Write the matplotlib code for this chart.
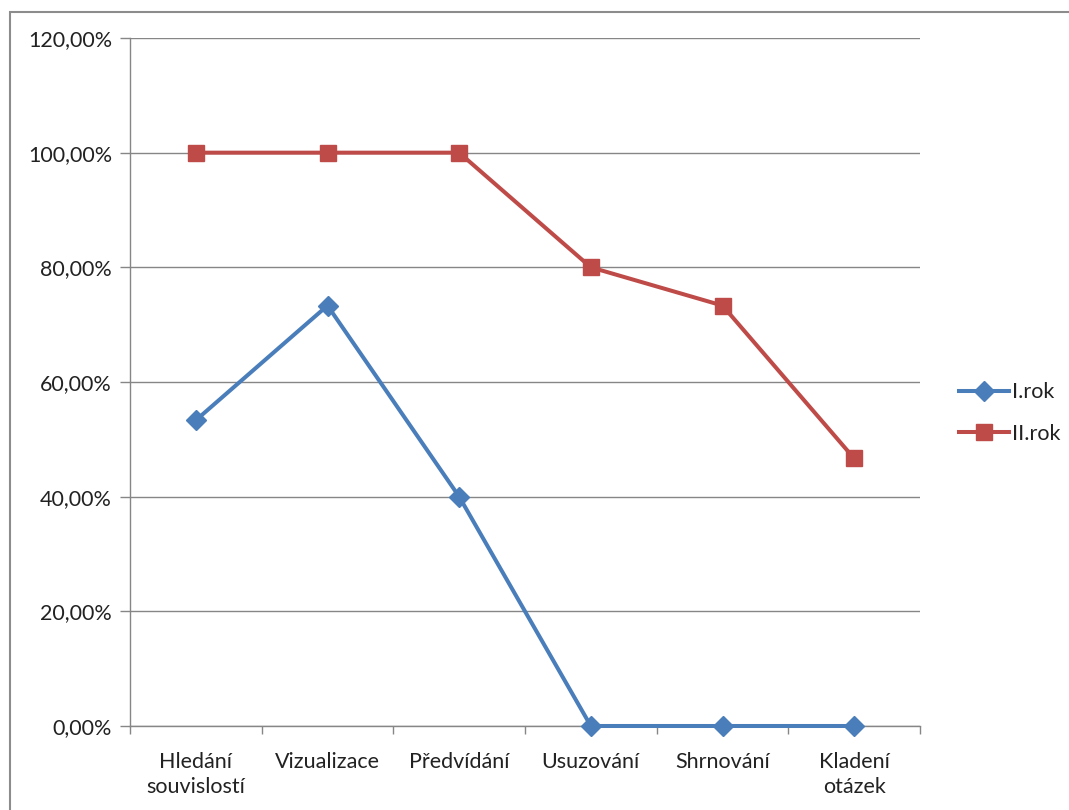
import matplotlib
matplotlib.use("Agg")
import matplotlib.pyplot as plt
from matplotlib.patches import Rectangle
from matplotlib.ticker import FuncFormatter, MultipleLocator

categories = ["Hledání\nsouvislostí", "Vizualizace", "Předvídání", "Usuzování", "Shrnování", "Kladení\notázek"]
rok1 = [53.33, 73.33, 40.0, 0.0, 0.0, 0.0]
rok2 = [100.0, 100.0, 100.0, 80.0, 73.33, 46.67]
series_names = ["I.rok", "II.rok"]

plt.rcParams['font.family'] = ['Lato', 'DejaVu Sans']

fig = plt.figure(figsize=(10.69, 8.10), dpi=100)
fig.patches.append(Rectangle((10/1069, -0.1), 1.2, 1 - 12/810 + 0.1, transform=fig.transFigure,
                             fill=False, edgecolor='#8c8c8c', linewidth=1.5, zorder=0))

ax = fig.add_axes([130/1069, 1 - 726/810, 790/1069, 688/810])
x = list(range(len(categories)))
ax.plot(x, rok1, color='#4a7ebb', linewidth=2.9, marker='D', markersize=10, label=series_names[0], zorder=3, clip_on=False)
ax.plot(x, rok2, color='#be4b48', linewidth=2.9, marker='s', markersize=11.5, label=series_names[1], zorder=3, clip_on=False)

ax.set_xlim(-0.5, len(categories) - 0.5)
ax.set_ylim(0, 120)
ax.yaxis.set_major_locator(MultipleLocator(20))
ax.yaxis.set_major_formatter(FuncFormatter(lambda v, p: f"{v:.2f}".replace('.', ',') + "%"))
ax.grid(axis='y', color='#868686', linewidth=1)
ax.set_axisbelow(True)

ax.set_xticks(x)
ax.set_xticklabels(categories, fontsize=15.5, color='#222222', linespacing=1.3)
ax.set_xticks([i - 0.5 for i in range(len(categories) + 1)], minor=True)
ax.tick_params(axis='x', which='major', length=0, pad=19)
ax.tick_params(axis='x', which='minor', length=6, color='#868686', width=1)
ax.tick_params(axis='y', length=7, color='#868686', width=1, labelsize=15.5, labelcolor='#222222', pad=6)

for s in ['top', 'right']:
    ax.spines[s].set_visible(False)
for s in ['left', 'bottom']:
    ax.spines[s].set_color('#868686')
    ax.spines[s].set_linewidth(1)

leg = fig.legend(loc='center left', bbox_to_anchor=(940/1069, 1 - 413/810), frameon=False,
                 fontsize=15.5, handlelength=2.3, handletextpad=0.15, labelspacing=1.0, labelcolor='#222222')

fig.savefig("out.png", dpi=100)
